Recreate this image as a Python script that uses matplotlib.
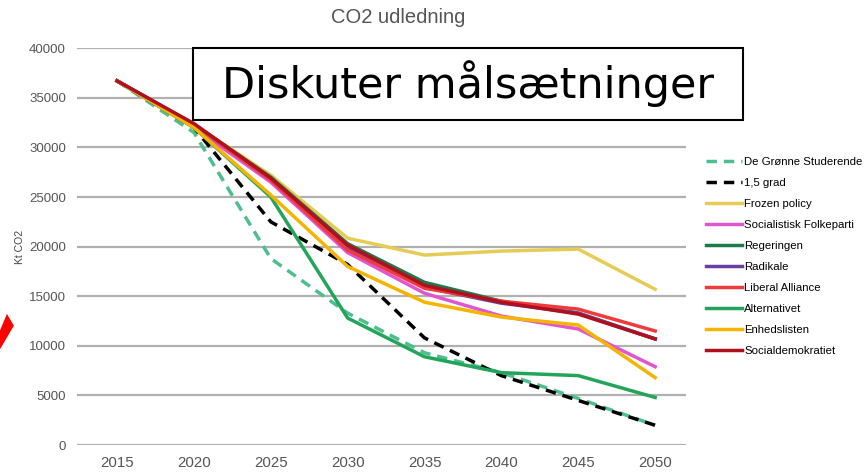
import matplotlib
matplotlib.use('Agg')
import matplotlib.pyplot as plt
from matplotlib.patches import Polygon, Rectangle

plt.rcParams['font.family'] = ['Liberation Sans', 'DejaVu Sans']

years = [2015, 2020, 2025, 2030, 2035, 2040, 2045, 2050]

groenne = [36700, 31500, 18800, 13300, 9300, 7300, 4700, 2000]
grad15 = [36700, 32000, 22500, 18200, 10800, 7000, 4500, 2000]
frozen = [36700, 32300, 27200, 20850, 19150, 19550, 19750, 15700]
sf = [36700, 32000, 26500, 19400, 15300, 13000, 11700, 7900]
regeringen = [36700, 32300, 27000, 20300, 16400, 14500, 13300, 10700]
radikale = [36700, 32300, 26800, 19900, 15900, 14300, 13300, 10700]
liberal = [36700, 32300, 26700, 19650, 15800, 14500, 13700, 11500]
alternativet = [36700, 32000, 25000, 12800, 8900, 7300, 7000, 4800]
enhed = [36700, 32000, 25200, 18000, 14400, 12900, 12100, 6800]
socdem = [36700, 32400, 26900, 20150, 16100, 14400, 13200, 10700]

series = [
    ("De Grønne Studerende", groenne, '#4dbf8e', '--'),
    ("1,5 grad", grad15, 'black', '--'),
    ("Frozen policy", frozen, '#e6cc55', '-'),
    ("Socialistisk Folkeparti", sf, '#e055d0', '-'),
    ("Regeringen", regeringen, '#1f7a4a', '-'),
    ("Radikale", radikale, '#6a3fa0', '-'),
    ("Liberal Alliance", liberal, '#ee3b3b', '-'),
    ("Alternativet", alternativet, '#22a55a', '-'),
    ("Enhedslisten", enhed, '#f4b400', '-'),
    ("Socialdemokratiet", socdem, '#b0101e', '-'),
]

fig = plt.figure(figsize=(8.66, 4.72), dpi=100)
ax = fig.add_axes([0.089, 0.057, 0.703, 0.841])

for name, vals, col, ls in series:
    if ls == '--':
        ax.plot(years, vals, color=col, ls=ls, lw=2.5, label=name, dashes=(3, 2), zorder=3)
    else:
        ax.plot(years, vals, color=col, ls=ls, lw=2.5, label=name, zorder=3)

ax.set_xlim(2012.4, 2052.0)
ax.set_ylim(0, 40000)
ax.set_yticks(range(0, 40001, 5000))
ax.set_xticks(years)
ax.grid(axis='y', color='#b0b0b0', lw=1.6)
ax.set_axisbelow(True)
for s in ax.spines.values():
    s.set_visible(False)
ax.tick_params(length=0, colors='#555555')
ax.tick_params(axis='y', pad=8, labelsize=9.5)
ax.tick_params(axis='x', pad=8, labelsize=10.8)
ax.set_ylabel('Kt CO2', fontsize=7.5, color='#444444', labelpad=3)
fig.text(0.46, 0.962, 'CO2 udledning', fontsize=14.5, color='#555555',
         ha='center', va='center')

fig.legend(loc='upper left', bbox_to_anchor=(0.803, 0.69), frameon=False,
           fontsize=8.2, handlelength=3.2, handletextpad=0.2, labelspacing=0.97)

fig.patches.append(Rectangle((0.2229, 0.7458), 0.635, 0.1525, transform=fig.transFigure,
                             fc='white', ec='black', lw=1.5, zorder=5))
fig.text(0.540, 0.822, 'Diskuter målsætninger', family='DejaVu Sans', fontsize=31,
         ha='center', va='center', zorder=6)

fig.patches.append(Polygon([(0, 0.30), (0, 0.26), (0.016, 0.31), (0.008, 0.335)],
                           closed=True, transform=fig.transFigure, fc='red', ec='none'))

fig.savefig('out.png', dpi=100)
